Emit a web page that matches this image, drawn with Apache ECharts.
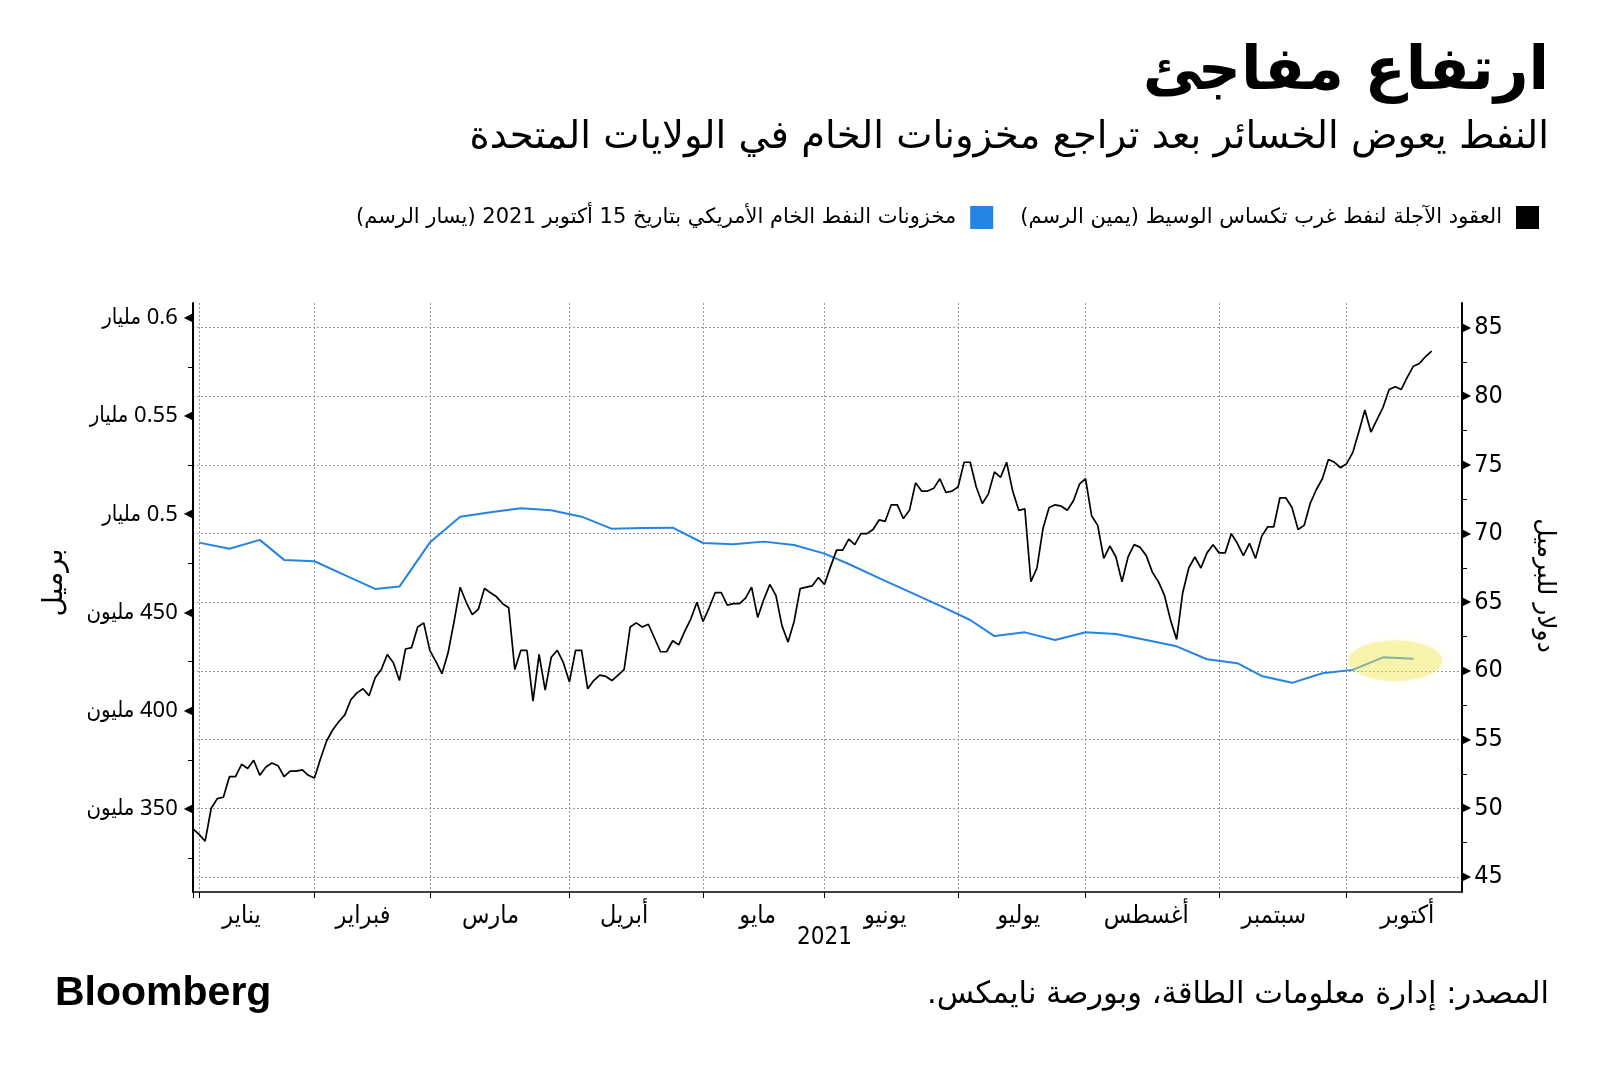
<!DOCTYPE html>
<html><head><meta charset="utf-8">
<script src="https://cdn.jsdelivr.net/npm/echarts@6/dist/echarts.min.js"></script>
<style>html,body{margin:0;padding:0;background:#fff}#chart{width:1600px;height:1070px}</style>
</head><body><div id="chart" dir="rtl"></div>
<script>
// ---------- DATA ----------
const startDate = '2020-12-31';
const endDate = '2021-10-28';
const holidays = ['2021-01-01','2021-01-18','2021-02-15','2021-05-31','2021-07-05','2021-09-06'];

// WTI front-month futures, one value per trading day from 2020-12-31 (right axis, $/bbl)
const wtiValues = [
48.5,48.1,47.6,50.0,50.7,50.8,52.3,52.3,53.2,52.9,53.5,52.4,53.0,53.3,53.1,52.3,52.7,52.7,52.8,52.4,
52.2,53.6,54.9,55.7,56.3,56.8,57.9,58.4,58.7,58.2,59.5,60.1,61.2,60.6,59.3,61.6,61.7,63.2,63.5,
61.5,60.7,59.8,61.3,63.6,66.1,65.0,64.1,64.5,66.0,65.7,65.4,64.9,64.6,60.1,61.5,61.5,57.8,61.2,58.6,61.0,61.5,60.6,
59.2,61.5,61.5,58.7,59.3,59.7,59.6,59.3,59.7,60.1,63.2,63.5,63.2,63.4,62.4,61.4,61.4,62.2,61.9,62.9,63.8,65.0,
63.6,64.6,65.7,65.7,64.8,64.9,64.9,65.3,66.1,63.9,65.2,66.3,65.5,63.3,62.1,63.6,66.0,66.1,66.2,66.8,
66.3,67.6,68.8,68.8,69.6,69.2,70.0,70.0,70.3,71.0,70.9,72.1,72.1,71.1,71.7,73.7,73.1,73.1,73.3,74.0,73.0,73.1,
73.4,75.2,75.2,73.4,72.2,72.9,74.5,74.1,75.2,73.1,71.7,71.8,66.5,67.5,70.4,71.9,72.1,72.0,71.7,72.4,73.6,
74.0,71.3,70.6,68.2,69.1,68.3,66.5,68.3,69.2,69.0,68.4,67.2,66.5,65.5,63.7,62.3,65.7,67.5,68.3,67.5,68.6,69.2,
68.6,68.6,70.0,69.3,68.4,69.3,68.2,69.8,70.5,70.5,72.6,72.6,71.9,70.3,70.6,72.2,73.2,74.0,75.4,75.2,74.8,
75.1,75.9,77.4,79.0,77.4,78.3,79.2,80.5,80.7,80.5,81.4,82.2,82.4,82.9,83.3
];

// US crude inventories, weekly (left axis, million barrels)
const inventoryDates = ['2021-01-04','2021-01-11','2021-01-19','2021-01-25','2021-02-01','2021-02-08','2021-02-16','2021-02-22',
'2021-03-01','2021-03-08','2021-03-15','2021-03-22','2021-03-29','2021-04-05','2021-04-12','2021-04-19','2021-04-26',
'2021-05-03','2021-05-10','2021-05-17','2021-05-24','2021-06-01','2021-06-07','2021-06-14','2021-06-21','2021-06-28',
'2021-07-06','2021-07-12','2021-07-19','2021-07-26','2021-08-02','2021-08-09','2021-08-16','2021-08-23','2021-08-30',
'2021-09-07','2021-09-13','2021-09-20','2021-09-27','2021-10-04','2021-10-11','2021-10-18'];
const inventoryValues = [485.6,482.5,487.0,476.8,476.1,469.0,462.0,463.2,
485.6,498.8,501.1,503.1,502.1,498.8,492.6,493.0,493.2,
485.4,484.8,486.1,484.4,480.0,474.7,467.5,460.5,453.5,
446.2,438.0,439.9,436.0,440.0,439.1,436.0,432.8,426.2,
424.2,417.7,414.2,419.1,420.8,427.2,426.5];

// highlight on the latest inventory readings
const highlightDate = '2021-10-13';
const highlightValue = 425.5;

// axis ticks
const leftTickValues = [350, 400, 450, 500, 550, 600];
const leftTickLabels = ['350 مليون', '400 مليون', '450 مليون', '0.5 مليار', '0.55 مليار', '0.6 مليار'];
const leftMinorTicks = [325, 375, 425, 475, 525, 575];
const rightTickValues = [45, 50, 55, 60, 65, 70, 75, 80, 85];
const rightMinorTicks = [47.5, 52.5, 57.5, 62.5, 67.5, 72.5, 77.5, 82.5];
const monthLabelDates = ['2021-01-13','2021-02-11','2021-03-15','2021-04-14','2021-05-14','2021-06-15','2021-07-16','2021-08-16','2021-09-15','2021-10-15'];
const monthLabelNames = ['يناير','فبراير','مارس','أبريل','مايو','يونيو','يوليو','أغسطس','سبتمبر','أكتوبر'];
const yearLabelDate = '2021-06-01';
const yearLabel = '2021';

const wtiName = 'العقود الآجلة لنفط غرب تكساس الوسيط (يمين الرسم)';
const invName = 'مخزونات النفط الخام الأمريكي بتاريخ 15 أكتوبر 2021 (يسار الرسم)';

// ---------- BUILD ----------
function tradingDays(s, e, skip) {
  const out = [];
  const d = new Date(s + 'T00:00:00Z');
  const end = new Date(e + 'T00:00:00Z');
  while (d <= end) {
    const wd = d.getUTCDay();
    const iso = d.toISOString().slice(0, 10);
    if (wd !== 0 && wd !== 6 && skip.indexOf(iso) < 0) out.push(iso);
    d.setUTCDate(d.getUTCDate() + 1);
  }
  return out;
}
const categories = tradingDays(startDate, endDate, holidays);
const monthStart = new Set();
categories.forEach((c, i) => { if (i === 0 || c.slice(0, 7) !== categories[i - 1].slice(0, 7)) monthStart.add(i); });
const xLabelMap = {};
monthLabelDates.forEach((d, i) => { xLabelMap[d] = monthLabelNames[i]; });
xLabelMap[yearLabelDate] = '{yr|' + yearLabel + '}';
const leftLabelMap = {};
leftTickValues.forEach((v, i) => { leftLabelMap[v] = leftTickLabels[i]; });

const AR = "'DejaVu Sans', sans-serif";
const ARC = "'DejaVu Sans Condensed', 'DejaVu Sans', sans-serif";
const LBL = "'Noto Sans', 'DejaVu Sans Condensed', sans-serif";
const GRID_COLOR = '#9a9a9a';
const BLUE = '#2484e4';

const chart = echarts.init(document.getElementById('chart'), null, { renderer: 'canvas' });
chart.setOption({
  animation: false,
  backgroundColor: '#fff',
  title: [
    { text: 'ارتفاع مفاجئ', right: 46, top: 38, textStyle: { fontFamily: AR, fontSize: 60, fontWeight: 'bold', color: '#000' } },
    { text: 'النفط يعوض الخسائر بعد تراجع مخزونات الخام في الولايات المتحدة', right: 46, top: 113, textStyle: { fontFamily: AR, fontSize: 38.5, fontWeight: 'normal', color: '#000' } },
    { text: 'المصدر: إدارة معلومات الطاقة، وبورصة نايمكس.', right: 46, top: 975, textStyle: { fontFamily: AR, fontSize: 30.5, fontWeight: 'normal', color: '#000' } },
    { text: 'Bloomberg', left: 50, top: 968, textStyle: { fontFamily: "'Liberation Sans', Arial, sans-serif", fontSize: 41, fontWeight: 'bold', color: '#000' } }
  ],
  legend: {
    data: [invName, wtiName], right: 56, top: 201, align: 'right', icon: 'rect',
    itemWidth: 23, itemHeight: 23, itemGap: 27,
    textStyle: { fontFamily: AR, fontSize: 21, color: '#000', padding: [0, 9, 0, 0] }
  },
  grid: { left: 193, right: 138, top: 303, bottom: 178, containLabel: false },
  xAxis: {
    type: 'category', data: categories, boundaryGap: false,
    axisLine: { show: true, lineStyle: { color: '#000', width: 1.5 } },
    axisTick: { show: true, interval: (i) => monthStart.has(i), length: 6, lineStyle: { color: '#000', width: 1 } },
    splitLine: { show: true, interval: (i) => monthStart.has(i), lineStyle: { color: GRID_COLOR, type: [2, 2], width: 1 } },
    axisLabel: {
      interval: (i, v) => xLabelMap[v] !== undefined,
      formatter: (v) => xLabelMap[v] || '',
      margin: 12, fontFamily: ARC, fontSize: 25, color: '#000',
      rich: { yr: { fontFamily: ARC, fontSize: 24, color: '#000', padding: [22, 0, 0, 0] } }
    }
  },
  yAxis: [
    {
      type: 'value', position: 'left', min: 307.7, max: 607.6,
      name: 'برميل', nameLocation: 'middle', nameRotate: 90, nameGap: 124,
      nameTextStyle: { fontFamily: AR, fontSize: 28, color: '#000', padding: [0, 0, 0, 30] },
      axisLine: { show: true, lineStyle: { color: '#000', width: 2 } },
      axisTick: { show: true, customValues: leftMinorTicks, length: 5, lineStyle: { color: '#000', width: 1 } },
      splitLine: { show: false },
      axisLabel: {
        customValues: leftTickValues, margin: 0,
        formatter: (v) => '{v|' + leftLabelMap[v] + '}{t|◀}',
        rich: {
          v: { fontFamily: LBL, fontSize: 22, color: '#000', padding: [0, 6, 0, 0] },
          t: { fontFamily: "'DejaVu Sans'", fontSize: 12, color: '#000' }
        }
      }
    },
    {
      type: 'value', position: 'right', min: 43.9, max: 86.8,
      name: 'دولار للبرميل', nameLocation: 'middle', nameRotate: -90, nameGap: 70,
      nameTextStyle: { fontFamily: AR, fontSize: 25, color: '#000', padding: [0, 24, 0, 0] },
      axisLine: { show: true, lineStyle: { color: '#000', width: 2 } },
      axisTick: { show: false, customValues: rightTickValues },
      splitLine: { show: true, lineStyle: { color: GRID_COLOR, type: [2, 2], width: 1 } },
      axisLabel: {
        customValues: rightTickValues, margin: 0,
        formatter: (v) => '{t|▶}{v|' + v + '}',
        rich: {
          v: { fontFamily: ARC, fontSize: 25, color: '#000', padding: [0, 0, 0, 3] },
          t: { fontFamily: "'DejaVu Sans'", fontSize: 12, color: '#000' }
        }
      }
    },
    {
      type: 'value', position: 'right', min: 43.9, max: 86.8,
      axisLine: { show: false },
      axisTick: { show: true, customValues: rightMinorTicks, length: 5, lineStyle: { color: '#000', width: 1 } },
      axisLabel: { show: false },
      splitLine: { show: false }
    }
  ],
  series: [
    {
      name: wtiName, type: 'line', xAxisIndex: 0, yAxisIndex: 1, data: wtiValues,
      showSymbol: false, symbol: 'none', color: '#000',
      lineStyle: { color: '#000', width: 1.7 }, z: 3
    },
    {
      name: invName, type: 'line', xAxisIndex: 0, yAxisIndex: 0,
      data: inventoryDates.map((d, i) => [d, inventoryValues[i]]),
      showSymbol: false, symbol: 'none', color: BLUE,
      lineStyle: { color: BLUE, width: 2 }, z: 2,
      markPoint: {
        silent: true, symbol: 'circle', symbolSize: [94, 41],
        label: { show: false },
        itemStyle: { color: 'rgba(240,232,80,0.38)', shadowBlur: 8, shadowColor: 'rgba(240,232,80,0.4)' },
        data: [{ coord: [highlightDate, highlightValue] }]
      }
    }
  ]
});
</script></body></html>
